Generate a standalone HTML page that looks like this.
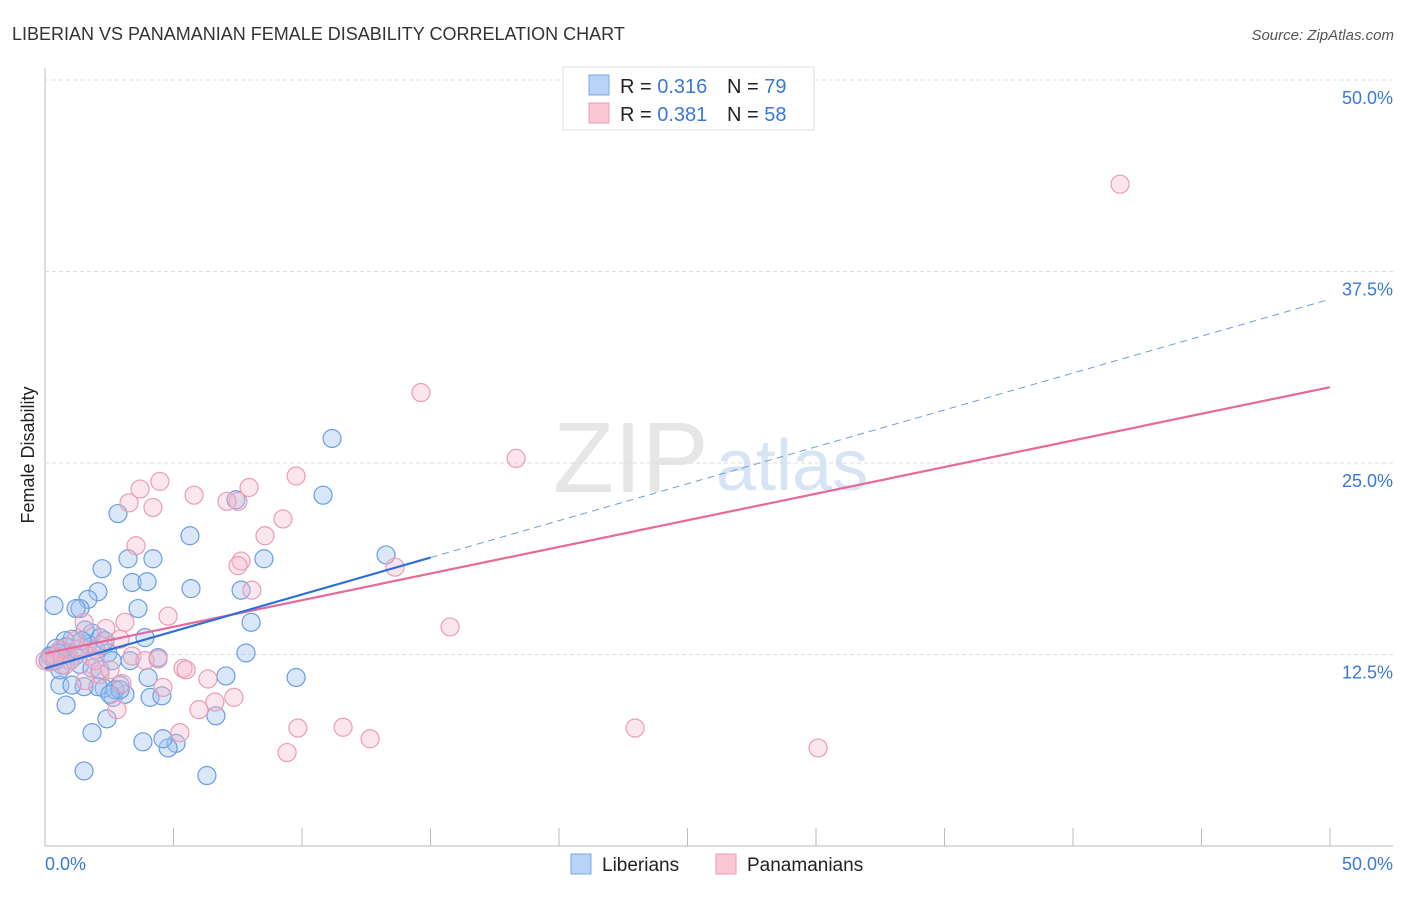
<!DOCTYPE html>
<html><head><meta charset="utf-8"><style>
body{margin:0;background:#fff;font-family:"Liberation Sans",sans-serif}
svg text{font-family:"Liberation Sans",sans-serif}
</style></head><body>
<svg id="chart" width="1406" height="892" xmlns="http://www.w3.org/2000/svg">
<text x="12" y="40" font-size="18" fill="#333">LIBERIAN VS PANAMANIAN FEMALE DISABILITY CORRELATION CHART</text>
<text x="1394" y="40" font-size="15" fill="#555" font-style="italic" text-anchor="end">Source: ZipAtlas.com</text>
<text x="553" y="492" font-size="100" fill="#e6e6e6" font-family="Liberation Serif">ZIP</text>
<text x="716" y="490" font-size="72" fill="#d6e4f5">atlas</text>
<text transform="translate(34,455) rotate(-90)" font-size="18" fill="#222" text-anchor="middle">Female Disability</text>
<g id="grid"></g><g id="pts"></g><g id="lines"></g>
<g>
<rect x="563" y="67" width="251" height="63" fill="#fff" stroke="#ddd"/>
<rect x="589" y="75" width="20" height="20" fill="#b8d3f5" stroke="#7aa8e6"/>
<rect x="589" y="103" width="20" height="20" fill="#f9c6d5" stroke="#ee9ab4"/>
<text x="620" y="93" font-size="20" fill="#222">R = <tspan fill="#3a78d8">0.316</tspan></text>
<text x="727" y="93" font-size="20" fill="#222">N = <tspan fill="#3a78d8">79</tspan></text>
<text x="620" y="121" font-size="20" fill="#222">R = <tspan fill="#3a78d8">0.381</tspan></text>
<text x="727" y="121" font-size="20" fill="#222">N = <tspan fill="#3a78d8">58</tspan></text>
</g>
<g>
<rect x="571" y="854" width="20" height="20" fill="#b8d3f5" stroke="#7aa8e6"/>
<text x="602" y="871" font-size="19" fill="#222">Liberians</text>
<rect x="716" y="854" width="20" height="20" fill="#f9c6d5" stroke="#ee9ab4"/>
<text x="747" y="871" font-size="19" fill="#222">Panamanians</text>
</g>
</svg>
<script>
const yTicks=[12.5,25,37.5,50];
const yTickLabels=["12.5%","25.0%","37.5%","50.0%"];
const xTicks=[0,5,10,15,20,25,30,35,40,45,50];
const libX=[0.35,1.52,0.82,0.58,1.83,2.41,2.84,3.23,3.39,3.97,3.62,4.2,5.64,5.68,7.43,7.63,8.02,7.82,8.52,10.82,11.17,13.27,9.77,7.04,6.3,6.65,5.1,4.79,4.59,3.81,4.09,4.55,4.01,4.4,3.89,2.65,3.11,2.3,2.06,2.92,1.52,1.05,2.22,2.06,1.67,1.36,1.21,1.83,2.14,1.67,1.05,0.78,0.43,0.27,0.12,0.58,0.89,1.17,0.66,1.36,1.83,2.14,2.45,2.72,2.92,2.53,3.31,1.56,0.82,0.51,0.19,0.97,1.28,1.98,2.33,1.44,2.61,0.58,0.39];
const libY=[15.7,4.9,9.2,10.5,7.4,8.3,21.7,18.75,17.2,17.25,15.5,18.75,20.25,16.8,22.6,16.7,14.6,12.6,18.75,22.9,26.6,19.0,11.0,11.1,4.6,8.5,6.7,6.4,7.0,6.8,9.7,9.8,11.0,12.3,13.6,9.7,9.9,10.3,10.4,10.5,10.4,10.5,18.1,16.6,16.1,15.5,15.5,13.9,13.6,13.2,13.5,13.4,12.9,12.4,12.1,12.3,12.6,12.4,11.8,11.85,11.6,11.5,12.6,10.2,10.2,9.9,12.1,14.1,13.0,12.6,12.4,12.1,12.8,12.8,13.4,13.4,12.1,11.5,12.1];
const panX=[41.83,14.63,18.33,9.77,7.94,7.51,5.8,4.47,3.7,3.27,4.2,7.08,8.56,9.26,3.54,7.63,7.51,8.05,13.62,15.76,4.79,3.11,2.37,2.14,2.92,1.52,3.39,3.89,4.4,5.37,5.49,6.34,7.35,6.61,5.99,4.59,3.0,2.14,2.8,5.25,9.84,11.6,12.65,9.42,22.96,30.08,1.75,0.97,0.58,0.19,1.36,1.95,1.17,0.78,2.53,0.39,1.56,0];
const panY=[43.2,29.6,25.3,24.15,23.4,22.5,22.9,23.8,23.3,22.4,22.1,22.5,20.25,21.35,19.6,18.6,18.3,16.7,18.2,14.3,15.0,14.6,14.2,13.1,13.5,14.6,12.4,12.1,12.2,11.6,11.5,10.9,9.7,9.4,8.9,10.35,10.6,11.2,8.9,7.4,7.7,7.75,7.0,6.1,7.7,6.4,12.4,12.1,12.8,12.0,12.9,12.1,13.4,11.8,11.5,12.4,10.8,12.1];
const libFit=[11.6,0.4818];   // intercept, slope
const panFit=[12.57,0.3476];
const libSolidEnd=15;
const NS="http://www.w3.org/2000/svg";
const X0=45,X1=1330,Y0=846,Ytop=80;
const sx=v=>X0+(v/50)*(X1-X0);
const sy=v=>Y0-(v/50)*(Y0-Ytop);
function mk(tag,attrs,parent){const e=document.createElementNS(NS,tag);for(const k in attrs)e.setAttribute(k,attrs[k]);parent.appendChild(e);return e;}
const grid=document.getElementById('grid');
const ax=mk('line',{x1:X0,y1:68,x2:X0,y2:Y0,stroke:'#bbb'},grid);


const bx=mk('line',{x1:X0,y1:Y0,x2:1393,y2:Y0,stroke:'#bbb'},grid);


yTicks.forEach((t,i)=>{
 const g=mk('line',{x1:X0,y1:sy(t),x2:1393,y2:sy(t),stroke:'#ddd','stroke-dasharray':'4,3'},grid);
 
 
 const l=mk('text',{x:1393,y:sy(t)+24,'font-size':18,fill:'#3a78d8','text-anchor':'end'},grid);
 l.textContent=yTickLabels[i];
 
 
});
xTicks.forEach(t=>{
 const k=mk('line',{x1:sx(t),y1:828,x2:sx(t),y2:Y0,stroke:'#bbb'},grid);
 
 
});
const xl0=mk('text',{x:45,y:870,'font-size':18,fill:'#3a78d8'},grid);xl0.textContent='0.0%';


const xl1=mk('text',{x:1393,y:870,'font-size':18,fill:'#3a78d8','text-anchor':'end'},grid);xl1.textContent='50.0%';


const pts=document.getElementById('pts');
libX.forEach((v,i)=>{
 const c=mk('circle',{cx:sx(v),cy:sy(libY[i]),r:9,fill:'rgba(160,196,240,0.4)',stroke:'#6a9ee2','stroke-width':1.2},pts);
 
 
});
panX.forEach((v,i)=>{
 const c=mk('circle',{cx:sx(v),cy:sy(panY[i]),r:9,fill:'rgba(247,182,202,0.35)',stroke:'#eb9cb6','stroke-width':1.2},pts);
 
 
});
const lines=document.getElementById('lines');
const f=(p,x)=>p[0]+p[1]*x;
const pl=mk('line',{x1:sx(0),y1:sy(f(panFit,0)),x2:sx(50),y2:sy(f(panFit,50)),stroke:'#e8689a','stroke-width':2.2},lines);


const bl=mk('line',{x1:sx(0),y1:sy(f(libFit,0)),x2:sx(libSolidEnd),y2:sy(f(libFit,libSolidEnd)),stroke:'#2f6fd8','stroke-width':2.2},lines);


const bd=mk('line',{x1:sx(libSolidEnd),y1:sy(f(libFit,libSolidEnd)),x2:sx(50),y2:sy(f(libFit,50)),stroke:'#6a9be0','stroke-width':1,'stroke-dasharray':'7,5'},lines);


</script>
</body></html>
